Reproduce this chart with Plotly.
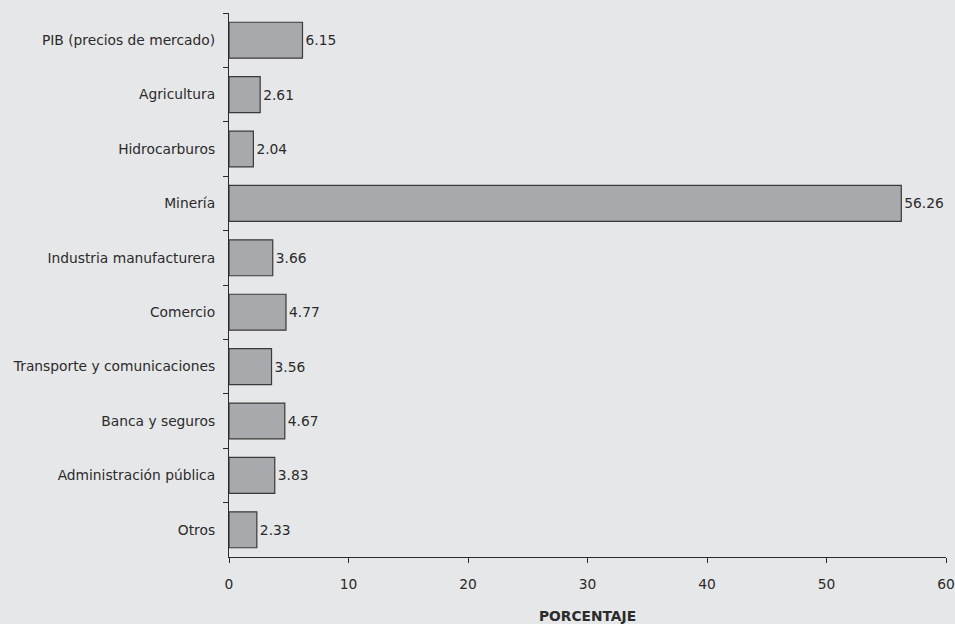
import plotly.graph_objects as go

categories = ["PIB (precios de mercado)", "Agricultura", "Hidrocarburos", "Minería",
              "Industria manufacturera", "Comercio", "Transporte y comunicaciones",
              "Banca y seguros", "Administración pública", "Otros"]
values = [6.15, 2.61, 2.04, 56.26, 3.66, 4.77, 3.56, 4.67, 3.83, 2.33]
value_labels = ["6.15", "2.61", "2.04", "56.26", "3.66", "4.77", "3.56", "4.67", "3.83", "2.33"]
x_ticks = [0, 10, 20, 30, 40, 50, 60]

FONT = "DejaVu Sans"
TXT = "#2b2b2b"
FS = 13.8

fig = go.Figure(go.Bar(
    y=categories, x=values, orientation="h",
    marker=dict(color="#a8a9ac", line=dict(color="#3a3a3a", width=1.2)),
    text=value_labels, textposition="outside", cliponaxis=False,
    textfont=dict(family=FONT, size=FS, color=TXT),
    width=0.66,
))

fig.update_layout(
    width=955, height=624,
    paper_bgcolor="#e6e7e8", plot_bgcolor="#e6e7e8",
    margin=dict(l=229, r=9, t=13, b=67),
    font=dict(family=FONT, size=FS, color=TXT),
    showlegend=False,
    bargap=0.34,
)
fig.update_xaxes(
    range=[0, 60], tickvals=x_ticks, showgrid=False, zeroline=False,
    automargin=False,
    showline=True, linecolor="#2b2b2b", linewidth=1.2,
    ticks="outside", ticklen=5, tickcolor="#2b2b2b", tickwidth=1.2,
    ticklabelstandoff=9, ticklabeloverflow="allow",
    title=dict(text="<b>PORCENTAJE</b>", standoff=24, font=dict(family=FONT, size=FS, color=TXT)),
    tickfont=dict(family=FONT, size=FS, color=TXT),
)
fig.update_yaxes(
    autorange="reversed", showgrid=False, zeroline=False,
    automargin=False,
    showline=True, linecolor="#2b2b2b", linewidth=1.2,
    ticks="outside", ticklen=5, tickcolor="#2b2b2b", tickwidth=1.2,
    tickson="boundaries", ticklabelstandoff=10,
    tickfont=dict(family=FONT, size=FS, color=TXT),
)

fig.write_html("out.html", config={"displayModeBar": False},
               post_script="document.body.style.margin='0';document.body.style.background='#e6e7e8';")
